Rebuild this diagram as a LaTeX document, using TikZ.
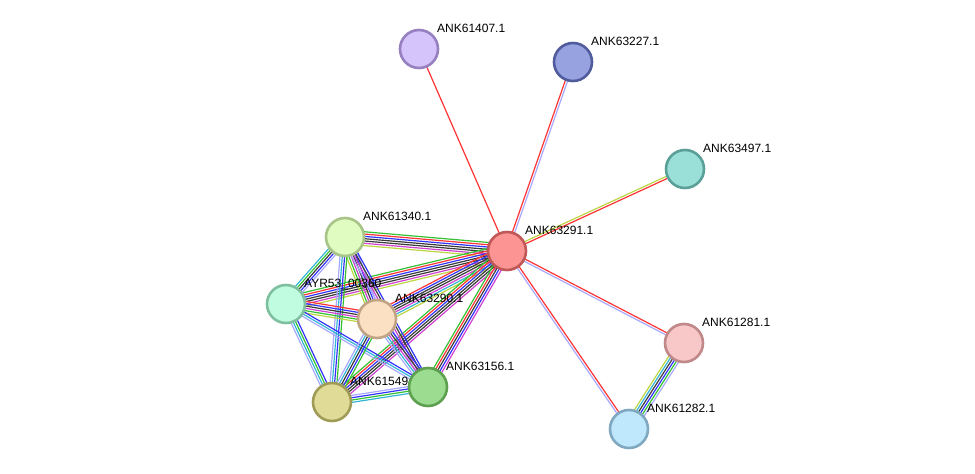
\documentclass[tikz,border=0pt]{standalone}
\usepackage{fontspec}
\setmainfont{Liberation Sans}
\usetikzlibrary{calc,backgrounds}

\definecolor{sgreen}{HTML}{33C233}
\definecolor{sred}{HTML}{FF3333}
\definecolor{sblue}{HTML}{3333FF}
\definecolor{sblack}{HTML}{3A3A3A}
\definecolor{smag}{HTML}{D040D0}
\definecolor{scyan}{HTML}{33B5D5}
\definecolor{slime}{HTML}{BCD543}
\definecolor{slav}{HTML}{A8A8FF}

% parallel coloured evidence lines between two nodes
\newcommand{\strlink}[3]{%
  \foreach \c [count=\i] in {#3} {\xdef\nlinks{\i}}
  \foreach \c [count=\i] in {#3} {
    \pgfmathsetmacro{\off}{((\nlinks+1)/2-\i)*2.3}
    \draw[slink,draw=\c] ($(#1)!\off pt!90:(#2)$) -- ($(#2)!\off pt!-90:(#1)$);
  }}

\begin{document}
\begin{tikzpicture}[x=1pt,y=-1pt,
    snode/.style={circle,minimum size=38pt,inner sep=0pt,line width=2.6pt},
    slabel/.style={anchor=base west,font=\fontsize{12}{14}\selectfont,inner sep=0pt},
    slink/.style={line width=1.2pt}
]
\useasboundingbox (0,0) rectangle (975,474);
\node[snode,fill={rgb,255:red,213;green,196;blue,252},draw={rgb,255:red,150;green,128;blue,192}] (n61407) at (419,49) {};
\node[snode,fill={rgb,255:red,151;green,163;blue,224},draw={rgb,255:red,80;green,92;blue,156}] (n63227) at (573,62) {};
\node[snode,fill={rgb,255:red,154;green,224;blue,216},draw={rgb,255:red,90;green,160;blue,152}] (n63497) at (685,169) {};
\node[snode,fill={rgb,255:red,252;green,148;blue,148},draw={rgb,255:red,192;green,88;blue,88}] (n63291) at (507,251) {};
\node[snode,fill={rgb,255:red,224;green,252;blue,192},draw={rgb,255:red,168;green,196;blue,136}] (n61340) at (345,237) {};
\node[snode,fill={rgb,255:red,192;green,252;blue,224},draw={rgb,255:red,128;green,192;blue,160}] (nayr53) at (286,304) {};
\node[snode,fill={rgb,255:red,252;green,224;blue,196},draw={rgb,255:red,192;green,164;blue,132}] (n63290) at (377,319) {};
\node[snode,fill={rgb,255:red,224;green,220;blue,152},draw={rgb,255:red,160;green,156;blue,88}] (n61549) at (332,402) {};
\node[snode,fill={rgb,255:red,156;green,220;blue,144},draw={rgb,255:red,92;green,160;blue,80}] (n63156) at (428,387) {};
\node[snode,fill={rgb,255:red,248;green,200;blue,200},draw={rgb,255:red,192;green,136;blue,136}] (n61281) at (684,343) {};
\node[snode,fill={rgb,255:red,192;green,232;blue,252},draw={rgb,255:red,128;green,168;blue,192}] (n61282) at (629,429) {};

\begin{scope}[on background layer]
\strlink{n63291}{n61407}{sred}
\strlink{n63291}{n63227}{sred,slav}
\strlink{n63291}{n63497}{slime,sred}
\strlink{n63291}{n61281}{sred,slav}
\strlink{n63291}{n61282}{sred,slav}
\strlink{n61282}{n61281}{slime,scyan,sblack,sblue,sgreen,slav}
\strlink{n61340}{n63291}{sgreen,sred,sblue,sblack,sblack,smag,slime}
\strlink{nayr53}{n63291}{sgreen,sred,sblue,sblack,sblack,smag,slime}
\strlink{n63290}{n63291}{sred,sblue,sblack,sblack,smag,scyan,slime}
\strlink{n61549}{n63291}{sgreen,sred,sblue,sblack,sblack,smag}
\strlink{n63156}{n63291}{sgreen,sred,sblack,sblue,smag}
\strlink{n61340}{nayr53}{slav,sblue,sblack,sgreen,scyan}
\strlink{n61340}{n63290}{slav,sblue,sblack,smag,sgreen,slime}
\strlink{n61340}{n61549}{sgreen,sblue,scyan,slav}
\strlink{n61340}{n63156}{sblue,sblack,smag,slav}
\strlink{nayr53}{n63290}{sred,sblue,sblack,smag,sgreen,slime}
\strlink{nayr53}{n61549}{sblue,sgreen,scyan,slav}
\strlink{nayr53}{n63156}{sblue,scyan,slav}
\strlink{n63290}{n61549}{sgreen,sblue,sblack,scyan,slav}
\strlink{n63290}{n63156}{sblue,sblack,smag,scyan,slav}
\strlink{n61549}{n63156}{slav,sblue,sgreen,scyan}
\end{scope}

\node[slabel] (l61407) at ($(n61407)+(18,-16.5)$) {ANK61407.1};
\node[slabel] (l63227) at ($(n63227)+(18,-16.5)$) {ANK63227.1};
\node[slabel] (l63497) at ($(n63497)+(18,-16.5)$) {ANK63497.1};
\node[slabel] (l63291) at ($(n63291)+(18,-16.5)$) {ANK63291.1};
\node[slabel] (l61340) at ($(n61340)+(18,-16.5)$) {ANK61340.1};
\node[slabel] (layr53) at ($(nayr53)+(18,-16.5)$) {AYR53\_00360};
\node[slabel] (l63290) at ($(n63290)+(18,-16.5)$) {ANK63290.1};
\node[slabel] (l61549) at ($(n61549)+(18,-16.5)$) {ANK61549};
\node[slabel] (l63156) at ($(n63156)+(18,-16.5)$) {ANK63156.1};
\node[slabel] (l61281) at ($(n61281)+(18,-16.5)$) {ANK61281.1};
\node[slabel] (l61282) at ($(n61282)+(18,-16.5)$) {ANK61282.1};
\end{tikzpicture}
\end{document}
